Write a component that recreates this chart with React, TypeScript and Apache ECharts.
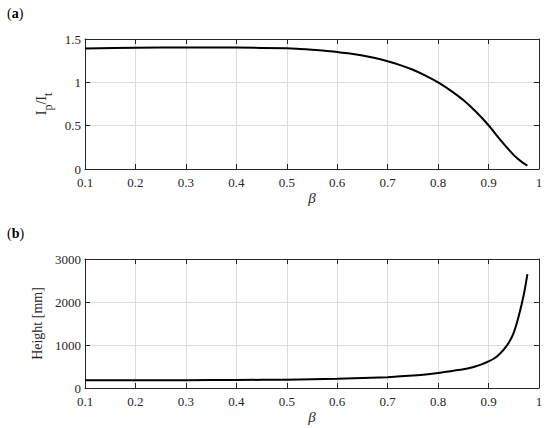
import React, { useEffect, useRef } from "react";
import * as echarts from "echarts";

const betaA = [0.1, 0.2, 0.3, 0.4, 0.5, 0.525, 0.55, 0.575, 0.6, 0.625, 0.65, 0.675, 0.7, 0.725, 0.75, 0.775, 0.8, 0.825, 0.85, 0.875, 0.9, 0.925, 0.95, 0.965, 0.977];
const ratioA = [1.39, 1.398, 1.402, 1.401, 1.392, 1.385, 1.376, 1.365, 1.35, 1.333, 1.31, 1.28, 1.243, 1.199, 1.145, 1.078, 1.0, 0.905, 0.795, 0.66, 0.505, 0.325, 0.16, 0.085, 0.038];

const betaB = [0.1, 0.2, 0.3, 0.4, 0.5, 0.6, 0.7, 0.75, 0.8, 0.825, 0.85, 0.8625, 0.875, 0.8875, 0.9, 0.91, 0.92, 0.93, 0.94, 0.95, 0.96, 0.97, 0.977];
const heightB = [180, 181, 183, 187, 194, 213, 252, 288, 350, 390, 435, 465, 505, 555, 620, 680, 770, 890, 1050, 1290, 1680, 2180, 2650];

const xTicks = ["0.1", "0.2", "0.3", "0.4", "0.5", "0.6", "0.7", "0.8", "0.9", "1"];
const yTicksA = ["0", "0.5", "1", "1.5"];
const yTicksB = ["0", "1000", "2000", "3000"];

const FONT = "Liberation Serif";
const AX = "#262626";

export default function App() {
  const ref = useRef<HTMLDivElement>(null);
  useEffect(() => {
    document.body.style.margin = "0";
    if (!ref.current) return;
    const chart = echarts.init(ref.current, undefined, { renderer: "svg" });
    const fmtX = (v: number) => xTicks[Math.round(v * 10) - 1] ?? String(+v.toFixed(1));
    const fmtA = (v: number) => yTicksA[Math.round(v * 2)] ?? String(v);
    const fmtB = (v: number) => yTicksB[Math.round(v / 1000)] ?? String(v);

    const grids = [
      { left: 85, right: 11, top: 39, height: 130 },
      { left: 85, right: 11, top: 259, height: 129 },
    ];
    const xBase = (gi: number, main: boolean) => ({
      type: "value",
      gridIndex: gi,
      min: 0.1,
      max: 1,
      interval: 0.1,
      position: main ? "bottom" : "top",
      axisLine: { show: true, onZero: false, lineStyle: { color: AX, width: 1 } },
      axisTick: { show: true, inside: true, length: 5, lineStyle: { color: AX } },
      axisLabel: {
        show: main,
        formatter: fmtX,
        color: AX,
        fontFamily: FONT,
        fontSize: 13,
        margin: 7,
      },
      splitLine: { show: main, lineStyle: { color: "#dcdcdc", width: 1 } },
      name: main ? "β" : "",
      nameLocation: "middle",
      nameGap: 21,
      nameTextStyle: { fontFamily: FONT, fontStyle: "italic", fontSize: 15, color: AX },
    });
    const yBase = (gi: number, main: boolean, max: number, interval: number, fmt: any, name: any, rich?: any) => ({
      type: "value",
      gridIndex: gi,
      min: 0,
      max,
      interval,
      position: main ? "left" : "right",
      axisLine: { show: true, onZero: false, lineStyle: { color: AX, width: 1 } },
      axisTick: { show: true, inside: true, length: 5, lineStyle: { color: AX } },
      axisLabel: {
        show: main,
        formatter: fmt,
        color: AX,
        fontFamily: FONT,
        fontSize: 13,
        margin: 4,
      },
      splitLine: { show: main, lineStyle: { color: "#dcdcdc", width: 1 } },
      name: main ? name : "",
      nameLocation: "middle",
      nameRotate: 90,
      nameGap: gi === 0 ? 30 : 33,
      nameTextStyle: { fontFamily: FONT, fontSize: 14, color: AX, rich },
    });

    chart.setOption({
      animation: false,
      backgroundColor: "#ffffff",
      grid: grids,
      xAxis: [xBase(0, true), xBase(0, false), xBase(1, true), xBase(1, false)],
      yAxis: [
        yBase(0, true, 1.5, 0.5, fmtA, "{i|I}{s|p}{i|/I}{s|t}", {
          i: { fontFamily: FONT, fontSize: 14, color: AX },
          s: { fontFamily: FONT, fontSize: 12, color: AX, verticalAlign: "bottom", lineHeight: 24 },
        }),
        yBase(0, false, 1.5, 0.5, fmtA, ""),
        yBase(1, true, 3000, 1000, fmtB, "Height [mm]"),
        yBase(1, false, 3000, 1000, fmtB, ""),
      ],
      graphic: [
        {
          type: "text",
          left: 7,
          top: 6,
          style: {
            text: "({b|a})",
            font: `14px ${FONT}`,
            fill: "#000",
            rich: { b: { fontWeight: "bold", fontFamily: FONT, fontSize: 14, fill: "#000" } },
          },
        },
        {
          type: "text",
          left: 7,
          top: 226,
          style: {
            text: "({b|b})",
            font: `14px ${FONT}`,
            fill: "#000",
            rich: { b: { fontWeight: "bold", fontFamily: FONT, fontSize: 14, fill: "#000" } },
          },
        },
      ],
      series: [
        {
          type: "line",
          xAxisIndex: 0,
          yAxisIndex: 0,
          data: betaA.map((b, i) => [b, ratioA[i]]),
          smooth: 0.3,
          showSymbol: false,
          lineStyle: { color: "#000", width: 2 },
        },
        {
          type: "line",
          xAxisIndex: 2,
          yAxisIndex: 2,
          data: betaB.map((b, i) => [b, heightB[i]]),
          smooth: 0.3,
          showSymbol: false,
          lineStyle: { color: "#000", width: 2 },
        },
      ],
    });
    return () => chart.dispose();
  }, []);
  return <div ref={ref} style={{ width: 550, height: 428 }} />;
}
